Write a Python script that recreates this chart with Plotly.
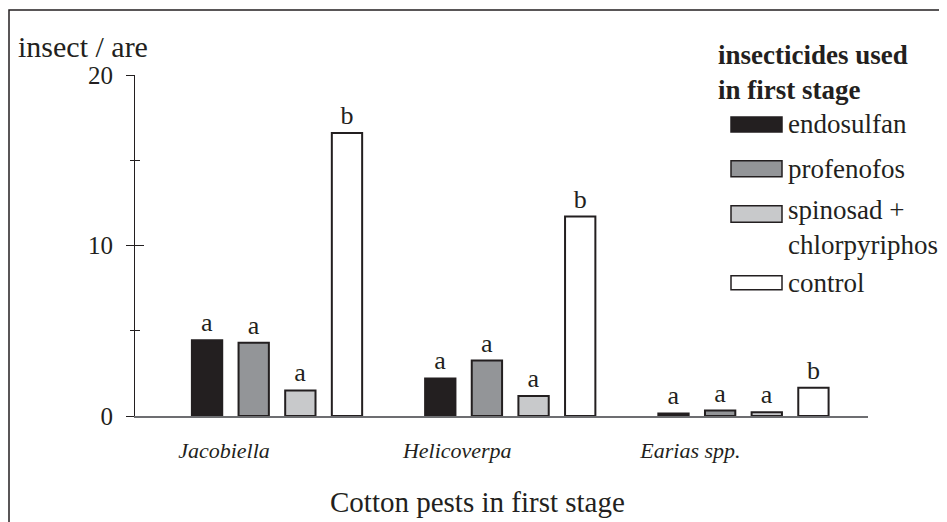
import plotly.graph_objects as go

# ---- data ----
pests = ["Jacobiella", "Helicoverpa", "Earias spp."]
series_names = ["endosulfan", "profenofos", "spinosad +<br>chlorpyriphos", "control"]
endosulfan = [4.45, 2.2, 0.15]
profenofos = [4.3, 3.25, 0.32]
spinosad = [1.5, 1.18, 0.22]
control = [16.6, 11.7, 1.65]
letters_endosulfan = ["a", "a", "a"]
letters_profenofos = ["a", "a", "a"]
letters_spinosad = ["a", "a", "a"]
letters_control = ["b", "b", "b"]
y_tick_vals = [0, 10, 20]
y_tick_text = ["0", "10", "20"]

# ---- style ----
INK = "#231f20"
SERIF = "Liberation Serif"
fills = [INK, "#939598", "#c8c9cb", "#ffffff"]
values = [endosulfan, profenofos, spinosad, control]
letters = [letters_endosulfan, letters_profenofos, letters_spinosad, letters_control]

OFF = 8  # page body margin
W, H = 947 - OFF, 522 - OFF
PLOT_L, PLOT_R, PLOT_T, PLOT_B = 135, 868, 75, 416.5  # page pixels
L, R, T, B = PLOT_L - OFF, (947 - PLOT_R), PLOT_T - OFF, (522 - PLOT_B)
pw, ph = PLOT_R - PLOT_L, PLOT_B - PLOT_T


def px_x(x):
    return (x - PLOT_L) / pw


def px_y(y):
    return (PLOT_B - y) / ph


fig = go.Figure()
for name, vals, fill, lets in zip(series_names, values, fills, letters):
    fig.add_trace(go.Bar(
        x=pests, y=vals, name=name,
        marker=dict(color=fill, line=dict(color=INK, width=2)),
        text=lets, textposition="outside", cliponaxis=False, constraintext="none",
        textfont=dict(family=SERIF, size=26, color=INK),
        showlegend=False,
    ))

# custom legend (swatches + labels)
legend_rows = [(117, 132), (161, 177), (206, 222.5), (276, 290)]
legend_text_y = [124.5, 169, 227.5, 283]
shapes = []
annotations = []
for name, fill, (y0, y1), ty in zip(series_names, fills, legend_rows, legend_text_y):
    shapes.append(dict(type="rect", xref="paper", yref="paper",
                       x0=px_x(731), x1=px_x(782), y0=px_y(y1), y1=px_y(y0),
                       fillcolor=fill, line=dict(color=INK, width=1.5)))
    annotations.append(dict(xref="paper", yref="paper", x=px_x(786), y=px_y(ty),
                            xanchor="left", yanchor="middle", align="left",
                            text=name, showarrow=False,
                            font=dict(family=SERIF, size=27, color=INK)))

annotations.append(dict(xref="paper", yref="paper", x=px_x(716), y=px_y(38),
                        xanchor="left", yanchor="top", align="left",
                        text="<b>insecticides used<br>in first stage</b>", showarrow=False,
                        font=dict(family=SERIF, size=27, color=INK)))
annotations.append(dict(xref="paper", yref="paper", x=px_x(16), y=px_y(46),
                        xanchor="left", yanchor="middle",
                        text="insect / are", showarrow=False,
                        font=dict(family=SERIF, size=30, color=INK)))
annotations.append(dict(xref="paper", yref="paper", x=px_x(477), y=px_y(503),
                        xanchor="center", yanchor="middle",
                        text="Cotton pests in first stage", showarrow=False,
                        font=dict(family=SERIF, size=29, color=INK)))

# outer frame
shapes.append(dict(type="rect", xref="paper", yref="paper",
                   x0=px_x(9), x1=px_x(990), y0=px_y(560), y1=px_y(10),
                   line=dict(color=INK, width=1.5), fillcolor="rgba(0,0,0,0)", layer="below"))

fig.update_layout(
    width=W, height=H,
    margin=dict(l=L, r=R, t=T, b=B),
    paper_bgcolor="white", plot_bgcolor="white",
    barmode="group", bargap=0.2, bargroupgap=0.35,
    shapes=shapes, annotations=annotations,
    xaxis=dict(
        type="category", range=[-0.609, 2.534],
        showline=True, linecolor="#6d6e71", linewidth=1.5,
        ticks="", showgrid=False, zeroline=False,
        tickfont=dict(family=SERIF, size=22, color=INK, style="italic"),
        ticklabelshift=-53, ticklabelstandoff=14,
    ),
    yaxis=dict(
        range=[0, 20], tickvals=y_tick_vals, ticktext=y_tick_text,
        showline=True, linecolor=INK, linewidth=1,
        ticks="outside", ticklen=8, tickwidth=1, tickcolor=INK,
        minor=dict(ticks="outside", ticklen=4, tickwidth=1, tickcolor=INK, dtick=5),
        showgrid=False, zeroline=False, ticklabelstandoff=8,
        tickfont=dict(family=SERIF, size=25, color=INK),
    ),
    yaxis2=dict(
        overlaying="y", side="left", range=[0, 20], tickvals=y_tick_vals,
        showticklabels=False, showgrid=False, zeroline=False, showline=False,
        ticks="inside", ticklen=9, tickwidth=1, tickcolor=INK,
        minor=dict(ticks="inside", ticklen=5, tickwidth=1, tickcolor=INK, dtick=5),
    ),
)
# invisible trace to activate yaxis2
fig.add_trace(go.Scatter(x=[pests[0]], y=[0], yaxis="y2", mode="markers",
                         marker=dict(opacity=0), showlegend=False, hoverinfo="skip"))

fig.write_html("out.html")
